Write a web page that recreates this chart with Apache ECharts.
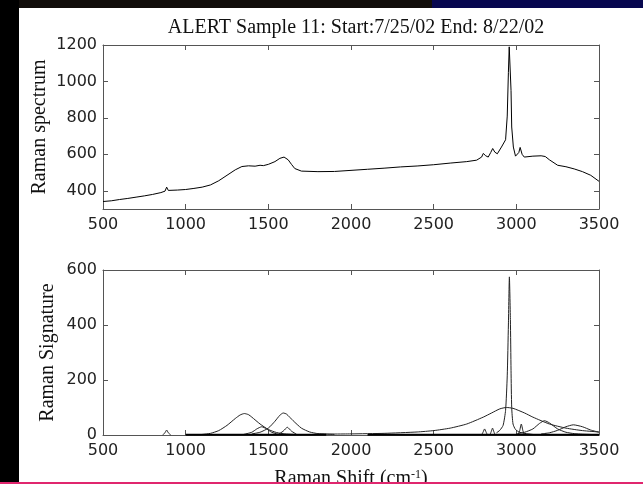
<!DOCTYPE html>
<html><head><meta charset="utf-8">
<script src="https://cdn.jsdelivr.net/npm/echarts@6/dist/echarts.min.js"></script>
<style>html,body{margin:0;padding:0;background:#fff}#c{width:643px;height:484px}</style>
</head><body><div id="c"></div>
<script>
const titleText = 'ALERT Sample 11: Start:7/25/02 End: 8/22/02';
const xTicks = [500, 1000, 1500, 2000, 2500, 3000, 3500];
const topYTicks = [400, 600, 800, 1000, 1200];
const bottomYTicks = [0, 200, 400, 600];

// Top: measured Raman spectrum [shift, intensity]
const spectrum = [
 [500,341],[550,345],[600,352],[650,358],[700,365],[750,372],[800,380],[850,390],[875,398],[885,420],[895,402],
 [950,404],[1000,407],[1050,413],[1100,420],[1150,432],[1200,455],[1250,485],[1300,515],[1340,533],[1380,537],
 [1420,535],[1450,540],[1460,550],[1470,538],[1500,545],[1540,560],[1570,578],[1595,585],[1620,570],[1640,545],
 [1660,522],[1700,508],[1800,505],[1900,506],[2000,512],[2100,518],[2200,524],[2300,531],[2400,536],[2500,543],
 [2600,552],[2700,560],[2760,568],[2790,585],[2800,605],[2815,592],[2830,585],[2845,610],[2857,632],[2870,612],
 [2885,603],[2910,640],[2935,680],[2945,810],[2952,1050],[2957,1190],[2964,1190],[2968,950],[2972,750],[2982,640],
 [2995,590],[3005,585],[3015,610],[3023,638],[3035,600],[3048,585],[3100,590],[3150,592],[3175,588],[3200,570],
 [3250,540],[3300,532],[3350,520],[3400,505],[3450,485],[3500,452]
];

// Bottom: fitted signature components [shift, value]
const peak885 = [[860,0],[875,8],[885,18],[895,8],[910,0]];
const peak1355 = [[1050,1],[1100,2],[1150,6],[1200,16],[1250,35],[1300,60],[1330,73],[1355,78],[1380,74],[1400,65],[1450,40],[1500,20],[1550,9],[1600,4],[1700,1]];
const peak1460 = [[1350,2],[1400,10],[1430,22],[1460,30],[1490,22],[1520,10],[1560,3],[1600,1]];
const peak1590 = [[1400,4],[1450,10],[1500,25],[1540,50],[1570,72],[1590,80],[1610,76],[1650,52],[1700,25],[1750,11],[1800,5],[1900,2]];
const peak1615 = [[1560,2],[1590,14],[1615,28],[1640,14],[1670,3]];
const peak2940 = [[1800,3],[2000,4],[2200,6],[2400,11],[2500,16],[2600,25],[2700,40],[2800,65],[2850,80],[2900,95],[2940,100],[2980,97],[3050,80],[3100,65],[3200,40],[3300,25],[3400,16],[3500,11]];
const peak2958 = [[2880,8],[2900,17],[2920,35],[2935,90],[2945,215],[2952,400],[2958,575],[2964,420],[2968,235],[2972,100],[2980,40],[2995,20],[3020,10],[3060,5],[3100,2]];
const peak2805 = [[2790,0],[2800,12],[2808,22],[2816,12],[2825,0]];
const peak2855 = [[2840,0],[2848,12],[2856,25],[2864,12],[2872,0]];
const peak3030 = [[3010,0],[3020,15],[3030,40],[3040,15],[3050,0]];
const peak3170 = [[3000,4],[3050,10],[3100,22],[3140,42],[3170,52],[3200,44],[3250,22],[3300,10],[3350,5],[3400,3],[3500,1]];
const peak3345 = [[3150,4],[3200,8],[3250,17],[3300,30],[3345,37],[3400,30],[3450,18],[3500,10]];
const baseline = [[1000,1],[1850,1],[null,null],[2100,1],[3500,1]];

const components = [peak885, peak1355, peak1460, peak1590, peak1615, peak2940, peak2958, peak2805, peak2855, peak3030, peak3170, peak3345];

const serif = 'Liberation Serif';
const sans = 'DejaVu Sans';
const axisCol = '#555';

function xAx(grid, pos, showLabel, name) {
  return {
    type: 'value', gridIndex: grid, position: pos, min: 500, max: 3500, interval: 500,
    axisLine: { show: true, onZero: false, lineStyle: { color: axisCol, width: 1 } },
    axisTick: { show: true, inside: true, length: 5, lineStyle: { color: axisCol } },
    axisLabel: { show: showLabel, fontFamily: sans, fontSize: 16, color: '#222', margin: 8,
      customValues: xTicks, formatter: v => String(v) },
    splitLine: { show: false },
    name: name || '', nameLocation: 'middle', nameGap: 34,
    nameTextStyle: { fontFamily: serif, fontSize: 20, color: '#111',
      rich: { sup: { fontFamily: serif, fontSize: 12, color: '#111', verticalAlign: 'top' } } }
  };
}
function yAx(grid, pos, min, max, ticks, showLabel, name, gap) {
  return {
    type: 'value', gridIndex: grid, position: pos, min: min, max: max,
    axisLine: { show: true, onZero: false, lineStyle: { color: axisCol, width: 1 } },
    axisTick: { show: true, inside: true, length: 5, customValues: ticks, lineStyle: { color: axisCol } },
    axisLabel: { show: showLabel, customValues: ticks, fontFamily: sans, fontSize: 16, color: '#222', margin: 6,
      formatter: v => ticks.indexOf(v) >= 0 ? String(v) : '' },
    splitLine: { show: false },
    name: name || '', nameLocation: 'middle', nameGap: gap || 40, nameMoveOverlap: false,
    nameTextStyle: { fontFamily: serif, fontSize: 20, color: '#111' }
  };
}

const series = [{
  type: 'line', xAxisIndex: 0, yAxisIndex: 0, data: spectrum, showSymbol: false,
  lineStyle: { color: '#000', width: 1 }, animation: false
}];
components.forEach(c => series.push({
  type: 'line', xAxisIndex: 2, yAxisIndex: 2, data: c, showSymbol: false, smooth: 0.2,
  lineStyle: { color: '#222', width: 1 }, animation: false
}));
series.push({ type: 'line', xAxisIndex: 2, yAxisIndex: 2, data: baseline, showSymbol: false, connectNulls: false,
  lineStyle: { color: '#000', width: 2 }, animation: false });

const chart = echarts.init(document.getElementById('c'), null, { renderer: 'canvas' });
chart.setOption({
  backgroundColor: '#fff',
  animation: false,
  title: { text: titleText, left: 351, textAlign: 'center', top: 13,
    textStyle: { fontFamily: serif, fontSize: 20, fontWeight: 'normal', color: '#111' } },
  grid: [
    { left: 103, top: 45, width: 496, height: 164, outerBoundsMode: 'none', containLabel: false },
    { left: 103, top: 270, width: 496, height: 165, outerBoundsMode: 'none', containLabel: false }
  ],
  xAxis: [
    xAx(0, 'bottom', true),
    xAx(0, 'top', false),
    xAx(1, 'bottom', true, 'Raman Shift (cm{sup|-1})'),
    xAx(1, 'top', false)
  ],
  yAxis: [
    yAx(0, 'left', 300, 1200, topYTicks, true, 'Raman spectrum', 53),
    yAx(0, 'right', 300, 1200, topYTicks, false),
    yAx(1, 'left', 0, 600, bottomYTicks, true, 'Raman Signature', 45),
    yAx(1, 'right', 0, 600, bottomYTicks, false)
  ],
  series: series,
  graphic: [
    { type: 'rect', shape: { x: 0, y: 0, width: 643, height: 8 }, style: { fill: '#110d0a' }, silent: true, z: 100 },
    { type: 'rect', shape: { x: 432, y: 0, width: 211, height: 8 }, style: { fill: '#07074f' }, silent: true, z: 101 },
    { type: 'rect', shape: { x: 0, y: 0, width: 19, height: 484 }, style: { fill: '#000' }, silent: true, z: 100 },
    { type: 'rect', shape: { x: 0, y: 482, width: 643, height: 2 }, style: { fill: '#e0266e' }, silent: true, z: 102 }
  ]
});
</script></body></html>
